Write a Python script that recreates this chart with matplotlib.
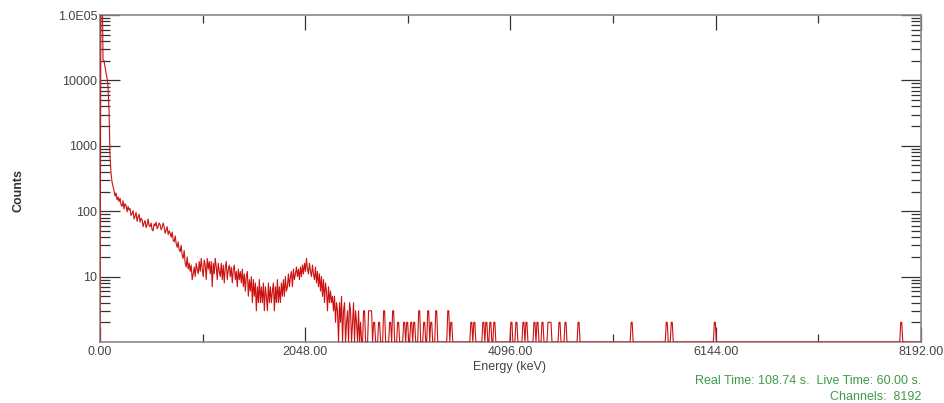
import numpy as np
import matplotlib
matplotlib.use("Agg")
import matplotlib.pyplot as plt
from matplotlib.ticker import FixedLocator, LogLocator, NullFormatter, FixedFormatter

plt.rcParams['font.family'] = ['Liberation Sans', 'DejaVu Sans']

# ---- data -------------------------------------------------------------
bin_width_kev = 10
# dense part of the spectrum: counts every 10 keV from 0 to 2600 keV
dense_counts = [
    0, 500000, 500000, 21000, 20000, 16000, 13000, 11000, 8000, 3500,
    700, 380, 280, 240, 205, 170, 190, 150, 165, 140,
    158, 125, 118, 145, 108, 130, 122, 98, 118, 104,
    110, 86, 92, 102, 76, 84, 96, 70, 82, 90,
    68, 78, 74, 58, 66, 72, 56, 62, 76, 60,
    58, 66, 52, 50, 64, 60, 68, 54, 58, 66,
    62, 52, 56, 66, 58, 46, 52, 58, 44, 50,
    46, 40, 48, 36, 34, 42, 32, 28, 34, 26,
    24, 30, 21, 19, 25, 16, 14, 20, 13, 16,
    12, 15, 9, 11, 14, 10, 16, 13, 11, 17,
    12, 19, 13, 10, 18, 15, 9, 19, 13, 17,
    11, 17, 7, 16, 11, 19, 14, 9, 16, 12,
    10, 16, 9, 15, 8, 14, 17, 9, 13, 15,
    10, 14, 8, 13, 15, 9, 12, 7, 13, 9,
    12, 8, 13, 7, 11, 6, 10, 12, 5, 9,
    6, 10, 4, 9, 5, 8, 3, 7, 4, 9,
    4, 7, 4, 8, 3, 7, 5, 3, 8, 4,
    7, 4, 6, 8, 3, 7, 4, 9, 4, 7,
    4, 8, 5, 9, 5, 10, 6, 7, 11, 7,
    10, 12, 7, 13, 9, 11, 14, 10, 13, 9,
    14, 10, 15, 11, 16, 12, 19, 13, 11, 16,
    12, 10, 15, 11, 9, 14, 8, 12, 7, 11,
    6, 10, 5, 9, 4, 8, 6, 3, 7, 4,
    6, 4, 5, 3, 5, 2, 4, 3, 0, 4,
    2, 5, 0, 3, 4, 0, 2, 3, 0, 4,
    3, 0, 2, 4, 0, 3, 2, 0, 3, 0,
    2,
]
# sparse isolated counts above 2600 keV
spike_energy = [2630, 2680, 2700, 2730, 2780, 2830, 2890, 2920, 2970, 3030,
                3060, 3100, 3130, 3180, 3230, 3270, 3300, 3350, 3470, 3500,
                3700, 3730, 3820, 3850, 3890, 3930, 4100, 4150, 4220, 4250,
                4330, 4360, 4410, 4470, 4490, 4580, 4640, 4770, 5300, 5650,
                5700, 6130, 7990]
spike_counts = [3, 3, 3, 2, 2, 3, 2, 3, 2, 2,
                2, 2, 2, 3, 2, 3, 2, 3, 3, 2,
                2, 2, 2, 2, 2, 2, 2, 2, 2, 2,
                2, 2, 2, 2, 2, 2, 2, 2, 2, 2,
                2, 2, 2]

x_ticks = [0, 2048, 4096, 6144, 8192]
x_tick_labels = ["0.00", "2048.00", "4096.00", "6144.00", "8192.00"]
y_ticks = [10, 100, 1000, 10000, 100000]
y_tick_labels = ["10", "100", "1000", "10000", "1.0E05"]
info_line1 = "Real Time: 108.74 s.  Live Time: 60.00 s."
info_line2 = "Channels:  8192"

# ---- build spectrum ---------------------------------------------------
n_bins = 8192 // bin_width_kev + 1
energy = np.arange(n_bins) * bin_width_kev
counts = np.zeros(n_bins)
counts[:len(dense_counts)] = dense_counts
for e, c in zip(spike_energy, spike_counts):
    i = int(round(e / bin_width_kev))
    counts[i] = c
    counts[i + 1] = c
plot_counts = np.where(counts > 0, counts, 1.0)

# ---- figure -----------------------------------------------------------
W, H = 945, 403
fig = plt.figure(figsize=(W / 100, H / 100), dpi=100)
fig.patch.set_facecolor('white')
ax = fig.add_axes([100 / W, 1 - 342 / H, 821 / W, (342 - 15) / H])

ax.plot(energy, plot_counts, color='#cc1111', lw=0.8, zorder=3)

ax.set_yscale('log')
ax.set_xlim(0, 8192)
ax.set_ylim(1, 100000)

ax.xaxis.set_major_locator(FixedLocator(x_ticks))
ax.xaxis.set_major_formatter(FixedFormatter(x_tick_labels))
ax.xaxis.set_minor_locator(FixedLocator([1024, 3072, 5120, 7168]))
ax.yaxis.set_major_locator(FixedLocator(y_ticks))
ax.yaxis.set_major_formatter(FixedFormatter(y_tick_labels))
ax.yaxis.set_minor_locator(LogLocator(base=10, subs=np.arange(2, 10), numticks=20))
ax.yaxis.set_minor_formatter(NullFormatter())

ax.tick_params(axis='both', which='both', direction='in', colors='#333333',
               labelcolor='#444444', labelsize=9, width=0.9)
ax.tick_params(axis='y', which='major', length=14.4, left=True, right=True, pad=2)
ax.tick_params(axis='y', which='minor', length=7.2, left=True, right=True)
ax.tick_params(axis='x', which='major', length=10.8, top=True, bottom=True, pad=3)
ax.tick_params(axis='x', which='minor', length=5.8, top=True, bottom=True)

for s in ax.spines.values():
    s.set_color('#8a8a8a')
    s.set_linewidth(1.2)

fig.text(510 / W, 1 - 367 / H, "Energy (keV)", ha='center', va='center',
         fontsize=9, color='#444444')
fig.text(18 / W, 1 - 190 / H, "Counts", ha='center', va='center', rotation=90,
         fontsize=9, color='#333333', fontweight='bold')
fig.text(921 / W, 1 - 381 / H, info_line1, ha='right', va='center',
         fontsize=9, color='#3f9a4a')
fig.text(921 / W, 1 - 397 / H, info_line2, ha='right', va='center',
         fontsize=9, color='#3f9a4a')

fig.savefig('out.png', dpi=100, facecolor='white')
